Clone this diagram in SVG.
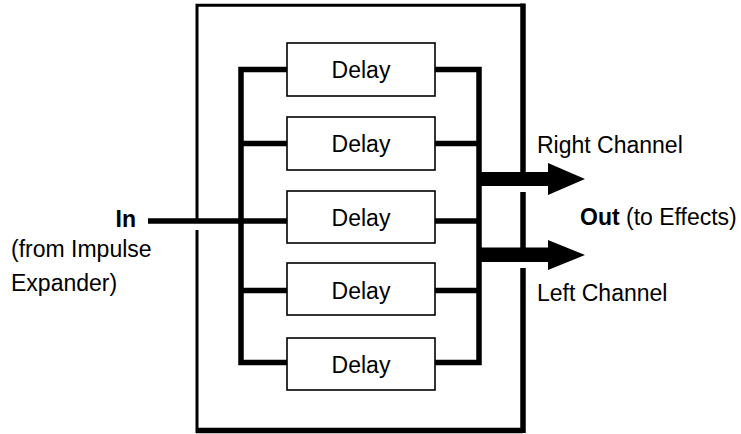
<svg xmlns="http://www.w3.org/2000/svg" width="741" height="434" viewBox="0 0 741 434">
<style>
.txt{font-family:"Liberation Sans",Arial,sans-serif;font-size:23px;fill:#000}
.b{font-weight:bold}
.box{fill:#fff;stroke:#000;stroke-width:1.6}
.thin{fill:none;stroke:#000;stroke-width:3}
.thick{fill:none;stroke:#000;stroke-width:5.5}
.bus{fill:none;stroke:#000;stroke-width:5.5;stroke-linejoin:miter}
</style>
<rect width="741" height="434" fill="#fff"/>
<g id="enclosure">
<path class="thin" d="M524,5.3 H197 V219"/>
<path class="thin" d="M197,230 V433"/>
<path class="thick" d="M196,430.5 H523"/>
<path class="thick" d="M523,3.5 V173 M523,192 V248 M523,268 V433"/>
</g>
<g id="connectors">
<path class="bus" d="M287,69.5 H241 V362.5 H287"/>
<path class="bus" d="M241,143.5 H287 M241,221 H287 M241,290.5 H287"/>
<path class="bus" d="M148,221 H241"/>
<path class="bus" d="M435,69.5 H479 V362.5 H435"/>
<path class="bus" d="M435,143.5 H479 M435,221 H479 M435,290.5 H479"/>
<polygon points="479,172 548,172 548,163 585,179 548,195 548,186 479,186" fill="#000"/>
<polygon points="479,247.5 548,247.5 548,240 585,255 548,270 548,262 479,262" fill="#000"/>
</g>
<g id="delay1"><rect class="box" x="287" y="43" width="148" height="53"/><text class="txt" x="361" y="78" text-anchor="middle">Delay</text></g>
<g id="delay2"><rect class="box" x="287" y="117" width="148" height="53"/><text class="txt" x="361" y="152" text-anchor="middle">Delay</text></g>
<g id="delay3"><rect class="box" x="287" y="191" width="148" height="52"/><text class="txt" x="361" y="226" text-anchor="middle">Delay</text></g>
<g id="delay4"><rect class="box" x="287" y="263" width="148" height="52"/><text class="txt" x="361" y="299" text-anchor="middle">Delay</text></g>
<g id="delay5"><rect class="box" x="287" y="338" width="148" height="52"/><text class="txt" x="361" y="373" text-anchor="middle">Delay</text></g>
<g id="input">
<text class="txt b" x="136" y="227" text-anchor="end">In</text>
<text class="txt" x="11" y="257">(from Impulse</text>
<text class="txt" x="11" y="291">Expander)</text>
</g>
<g id="outputs">
<text class="txt" x="537" y="153">Right Channel</text>
<text class="txt" x="580" y="225"><tspan class="b">Out</tspan> (to Effects)</text>
<text class="txt" x="537" y="301">Left Channel</text>
</g>
</svg>
